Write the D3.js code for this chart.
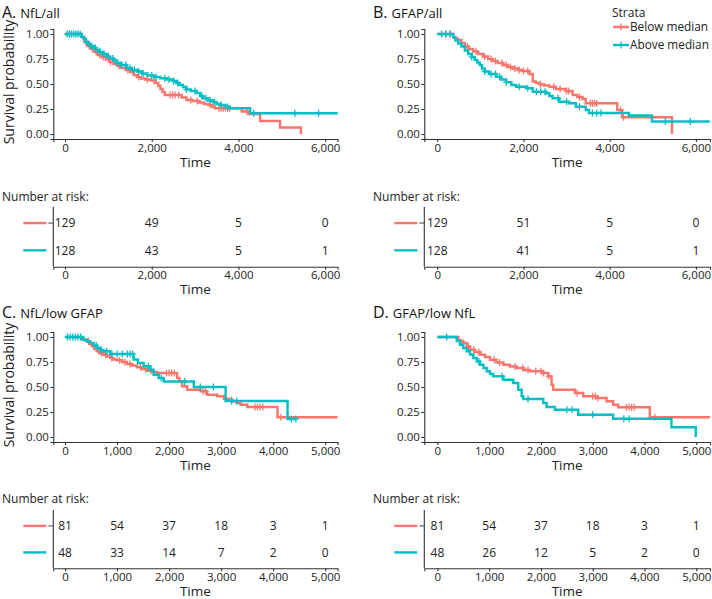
<!DOCTYPE html>
<html><head><meta charset="utf-8">
<script src="https://cdn.jsdelivr.net/npm/d3@7"></script>
<style>
body{margin:0;background:#fff;}
text{font-family:"Open Sans",sans-serif;}
</style></head>
<body><svg id="chart" width="712" height="599"></svg>
<script>
// ---------- DATA ----------
const strata = ["Below median", "Above median"];
const colors = ["#F8766D", "#00BFC4"];

// Panel A: NfL/all
const aBelowT = [0,385,450,520,600,680,760,850,940,1030,1120,1210,1300,1400,1500,1580,1660,1750,1850,1980,2080,2150,2200,2250,2300,2690,2800,2950,3100,3200,3300,3400,3460,4075,4230,4500,4960,5440];
const aBelowS = [1,0.97,0.92,0.88,0.85,0.82,0.79,0.77,0.745,0.72,0.70,0.68,0.66,0.64,0.62,0.59,0.57,0.555,0.545,0.535,0.51,0.48,0.45,0.42,0.39,0.365,0.34,0.33,0.315,0.30,0.29,0.27,0.257,0.225,0.20,0.13,0.065,0];
const aBelowCens = [480,560,640,720,800,880,1050,1250,1450,1700,1900,2050,2420,2480,2540,2620,2900,3050,3350,3550,3600,3650,3700,3750,3800,4200];
const aAboveT = [0,385,430,480,540,600,660,720,800,880,960,1040,1120,1200,1300,1420,1540,1660,1780,1900,2050,2200,2350,2500,2560,2640,2720,2800,2900,3040,3120,3190,3300,3420,3500,3577,3700,3800,4270,6290];
const aAboveS = [1,0.97,0.95,0.92,0.90,0.88,0.86,0.84,0.82,0.80,0.775,0.755,0.735,0.71,0.69,0.66,0.64,0.625,0.605,0.585,0.57,0.558,0.545,0.53,0.51,0.49,0.47,0.445,0.43,0.41,0.38,0.357,0.335,0.317,0.30,0.29,0.27,0.257,0.207,0.207];
const aAboveCens = [50,100,150,200,250,300,350,500,600,700,800,900,1000,1100,1200,1300,1400,1500,1600,1700,1800,2000,2100,2300,2400,2500,2600,2800,3000,3150,3250,3350,3450,3600,3750,4350,5300,5850];

// Panel B: GFAP/all
const bBelowT = [0,370,420,485,560,640,730,830,950,1060,1180,1290,1400,1520,1640,1750,1870,1985,2140,2215,2290,2370,2480,2600,2755,2985,3140,3250,3370,3445,4175,4290,5445];
const bBelowS = [1,0.97,0.955,0.94,0.91,0.875,0.85,0.825,0.80,0.775,0.75,0.73,0.71,0.69,0.67,0.655,0.64,0.63,0.60,0.525,0.51,0.497,0.485,0.473,0.45,0.43,0.39,0.37,0.35,0.307,0.24,0.168,0];
const bBelowCens = [200,300,700,900,1100,1250,1350,1500,1600,1700,1800,1900,2000,2100,2400,2700,2850,3000,3050,3300,3550,3600,3650,3700,4250,4320];
const bAboveT = [0,370,420,485,560,640,720,800,870,930,985,1040,1100,1200,1370,1480,1600,1720,1830,2060,2215,2520,2600,2675,2830,3060,3215,3445,3520,4445,4980,6320];
const bAboveS = [1,0.965,0.935,0.905,0.875,0.835,0.80,0.77,0.74,0.715,0.69,0.655,0.625,0.60,0.573,0.545,0.517,0.49,0.473,0.457,0.423,0.407,0.38,0.357,0.323,0.307,0.273,0.24,0.21,0.185,0.125,0.125];
const bAboveCens = [100,200,300,800,1100,1250,1350,1450,1600,1900,2100,2300,2400,2500,2800,3000,3300,3600,3700,3800,5290,5870];

// Panel C: NfL/low GFAP
const cBelowT = [0,320,418,470,515,560,610,680,740,800,868,930,997,1100,1190,1290,1382,1480,1575,1670,1768,2154,2200,2250,2347,2604,2733,2926,3054,3150,3215,3300,3376,3504,4083,5236];
const cBelowS = [1,0.975,0.957,0.93,0.907,0.88,0.857,0.84,0.823,0.805,0.79,0.775,0.767,0.75,0.73,0.715,0.697,0.68,0.663,0.65,0.64,0.59,0.557,0.507,0.473,0.457,0.423,0.407,0.383,0.37,0.357,0.34,0.323,0.30,0.197,0.197];
const cBelowCens = [450,650,700,780,900,1050,1150,1250,1450,1550,1650,1950,2000,2050,2100,2650,2700,3200,3650,3700,3750,3800,4150];
const cAboveT = [0,354,420,482,550,611,680,740,868,1318,1400,1511,1640,1704,1800,1897,2475,3086,4276,4437];
const cAboveS = [1,0.97,0.955,0.94,0.915,0.89,0.87,0.857,0.83,0.775,0.74,0.707,0.673,0.623,0.59,0.555,0.50,0.36,0.18,0.18];
const cAboveCens = [50,100,150,200,250,300,600,700,800,900,1000,1100,1200,1250,1300,1600,1850,2300,2600,2850,3200,3300,4350,4437];

// Panel D: GFAP/low NfL
const dBelowT = [0,405,450,500,570,630,720,823,920,1016,1140,1273,1400,1530,1660,1788,2045,2141,2205,2238,2656,2816,3073,3266,3395,3491,4102,5265];
const dBelowS = [1,0.97,0.955,0.94,0.905,0.873,0.85,0.823,0.80,0.773,0.745,0.723,0.705,0.69,0.67,0.657,0.64,0.607,0.523,0.473,0.44,0.407,0.39,0.357,0.323,0.297,0.197,0.197];
const dBelowCens = [500,600,700,800,1100,1200,1500,1650,1750,1900,2000,2050,2150,2700,3000,3050,3100,3650,3700,3750,3800,4200];
const dAboveT = [0,373,437,500,566,630,694,760,823,890,952,1016,1080,1273,1466,1562,1627,1659,2045,2109,2270,2720,3395,4520,4990];
const dAboveS = [1,0.96,0.923,0.89,0.857,0.825,0.79,0.755,0.723,0.69,0.657,0.63,0.607,0.573,0.54,0.473,0.407,0.38,0.34,0.30,0.273,0.223,0.183,0.097,0];
const dAboveCens = [180,800,1250,1750,2500,2600,3000,3600,3700];

// Number at risk
const riskTimesAB = [0,2000,4000,6000];
const riskTimesCD = [0,1000,2000,3000,4000,5000];
const aRiskBelow = [129,49,5,0], aRiskAbove = [128,43,5,1];
const bRiskBelow = [129,51,5,0], bRiskAbove = [128,41,5,1];
const cRiskBelow = [81,54,37,18,3,1], cRiskAbove = [48,33,14,7,2,0];
const dRiskBelow = [81,54,37,18,3,1], dRiskAbove = [48,26,12,5,2,0];

const yTicks = [0,0.25,0.5,0.75,1];
const fmtY = d3.format(".2f");
const fmtX = d3.format(",");

// ---------- DRAW ----------
const svg = d3.select("#chart");
const axisCol = "#333";
const txtCol = "#222";

function stepValue(T,S,t){let v=S[0];for(let i=0;i<T.length;i++){if(T[i]<=t)v=S[i];}return v;}

function styleAxis(a){
  a.selectAll("path,line").attr("stroke",axisCol).attr("stroke-width",1.1);
  a.selectAll("text").attr("font-size",11.5).attr("fill",txtCol).attr("font-family","'Open Sans',sans-serif");
}

function panel(cfg){
  const g = svg.append("g");
  // title
  const tt = g.append("text").attr("x",cfg.titleX).attr("y",cfg.titleY).attr("fill","#111");
  tt.append("tspan").attr("font-size",16).text(cfg.letter);
  tt.append("tspan").attr("font-size",13).attr("dx",4).text(cfg.title);

  const x = d3.scaleLinear().domain(cfg.xDom).range([cfg.left, cfg.right]);
  const y = d3.scaleLinear().domain([-0.05,1.05]).range([cfg.bottom, cfg.top]);

  // axes
  const ax = g.append("g").attr("transform",`translate(0,${cfg.bottom})`)
    .call(d3.axisBottom(x).tickValues(cfg.xTicks).tickFormat(fmtX).tickSizeOuter(0).tickSize(3).tickPadding(1.5));
  const ay = g.append("g").attr("transform",`translate(${cfg.left},0)`)
    .call(d3.axisLeft(y).tickValues(yTicks).tickFormat(fmtY).tickSizeOuter(0).tickSize(3).tickPadding(1.5));
  styleAxis(ax); styleAxis(ay);
  g.append("text").attr("x",(cfg.left+cfg.right)/2+(cfg.timeDx||0)).attr("y",cfg.bottom+28).attr("text-anchor","middle")
    .attr("font-size",13.5).attr("fill",txtCol).text("Time");
  if(cfg.yTitle){
    g.append("text").attr("transform",`translate(14,${(cfg.top+cfg.bottom)/2-2}) rotate(-90)`).attr("text-anchor","middle")
      .attr("font-size",14).attr("fill",txtCol).text("Survival probability");
  }

  const line = d3.line().x(d=>x(d[0])).y(d=>y(d[1])).curve(d3.curveStepAfter);
  cfg.curves.forEach((c,i)=>{
    const pts = c.T.map((t,k)=>[t,c.S[k]]);
    g.append("path").datum(pts).attr("d",line).attr("fill","none").attr("stroke",colors[i]).attr("stroke-width",2.4);
    const cg = g.append("g").attr("stroke",colors[i]).attr("stroke-width",1.3);
    c.C.forEach(ct=>{
      const cx=x(ct), cy=y(stepValue(c.T,c.S,ct));
      cg.append("line").attr("x1",cx).attr("x2",cx).attr("y1",cy-3.5).attr("y2",cy+3.5);
      cg.append("line").attr("x1",cx-3).attr("x2",cx+3).attr("y1",cy).attr("y2",cy);
    });
  });

  // risk table
  const r = cfg.risk;
  g.append("text").attr("x",cfg.titleX).attr("y",r.labelY).attr("dy","0.35em").attr("font-size",12).attr("fill",txtCol).text("Number at risk:");
  const ry = d3.scalePoint().domain(strata).range([r.top, r.bottom]).padding(0.6);
  const rax = g.append("g").attr("transform",`translate(0,${r.bottom})`)
    .call(d3.axisBottom(x).tickValues(cfg.xTicks).tickFormat(fmtX).tickSizeOuter(0).tickSize(3).tickPadding(1.5));
  styleAxis(rax);
  g.append("line").attr("x1",cfg.left).attr("x2",cfg.left).attr("y1",r.top).attr("y2",r.bottom).attr("stroke",axisCol).attr("stroke-width",1.1);
  g.append("text").attr("x",(cfg.left+cfg.right)/2+(cfg.timeDx||0)).attr("y",r.bottom+27.5).attr("text-anchor","middle")
    .attr("font-size",13.5).attr("fill",txtCol).text("Time");
  strata.forEach((s,i)=>{
    const yy = ry(s);
    g.append("line").attr("x1",cfg.left-30).attr("x2",cfg.left-7).attr("y1",yy).attr("y2",yy).attr("stroke",colors[i]).attr("stroke-width",2.4);
    if(i===0) g.append("line").attr("x1",cfg.left-5).attr("x2",cfg.left).attr("y1",yy).attr("y2",yy).attr("stroke","#555").attr("stroke-width",1.1);
    r.values[i].forEach((v,k)=>{
      g.append("text").attr("x",x(r.times[k])).attr("y",yy).attr("dy","0.35em").attr("text-anchor","middle")
        .attr("font-size",12).attr("fill",txtCol).text(v);
    });
  });
}

panel({letter:"A.",title:"NfL/all",titleX:2,titleY:18,left:53.3,right:337.5,top:29,bottom:139,xDom:[-270,6284],xTicks:[0,2000,4000,6000],yTitle:true,
  curves:[{T:aBelowT,S:aBelowS,C:aBelowCens},{T:aAboveT,S:aAboveS,C:aAboveCens}],
  risk:{labelY:196.7,top:206.7,bottom:266.7,times:riskTimesAB,values:[aRiskBelow,aRiskAbove]}});
panel({letter:"B.",title:"GFAP/all",titleX:373,titleY:18,left:424.3,right:710,top:29,bottom:139,xDom:[-300,6327],xTicks:[0,2000,4000,6000],yTitle:false,
  curves:[{T:bBelowT,S:bBelowS,C:bBelowCens},{T:bAboveT,S:bAboveS,C:bAboveCens}],
  risk:{labelY:196.7,top:206.7,bottom:266.7,times:riskTimesAB,values:[bRiskBelow,bRiskAbove]}});
panel({letter:"C.",title:"NfL/low GFAP",titleX:2,titleY:318,left:53.3,right:337.5,top:332,bottom:442,xDom:[-225,5236],xTicks:[0,1000,2000,3000,4000,5000],yTitle:true,
  curves:[{T:cBelowT,S:cBelowS,C:cBelowCens},{T:cAboveT,S:cAboveS,C:cAboveCens}],
  risk:{labelY:499,top:510,bottom:568.3,times:riskTimesCD,values:[cRiskBelow,cRiskAbove]}});
panel({letter:"D.",title:"GFAP/low NfL",titleX:373,titleY:318,left:424.3,right:710,top:332,bottom:442,xDom:[-253,5265],xTicks:[0,1000,2000,3000,4000,5000],yTitle:false,
  curves:[{T:dBelowT,S:dBelowS,C:dBelowCens},{T:dAboveT,S:dAboveS,C:dAboveCens}],
  risk:{labelY:499,top:510,bottom:568.3,times:riskTimesCD,values:[dRiskBelow,dRiskAbove]}});

// legend
const lg = svg.append("g");
lg.append("text").attr("x",612).attr("y",13).attr("dy","0.35em").attr("font-size",12).attr("fill",txtCol).text("Strata");
strata.forEach((s,i)=>{
  const yy = 27 + i*18;
  lg.append("line").attr("x1",613).attr("x2",629).attr("y1",yy).attr("y2",yy).attr("stroke",colors[i]).attr("stroke-width",2.4);
  lg.append("line").attr("x1",621).attr("x2",621).attr("y1",yy-3.5).attr("y2",yy+3.5).attr("stroke",colors[i]).attr("stroke-width",1.3);
  lg.append("text").attr("x",630).attr("y",yy).attr("dy","0.35em").attr("font-size",11.8).attr("fill",txtCol).text(s);
});
</script></body></html>
